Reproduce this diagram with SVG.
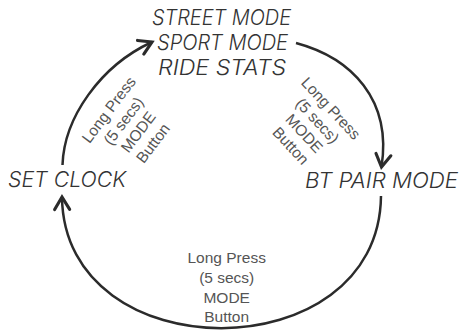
<svg xmlns="http://www.w3.org/2000/svg" width="462" height="331" viewBox="0 0 462 331">
  <style>
    .lcd { font-family: Inter, Roboto, "DejaVu Sans", sans-serif; font-weight: 300; font-style: italic; font-size: 21px; fill: #333; }
    .lbl { font-family: "Liberation Sans", Arial, sans-serif; font-size: 15.5px; fill: #555; text-anchor: middle; }
    .arc { fill: none; stroke: #2b2b2b; stroke-width: 2.5; marker-end: url(#head); }
  </style>
  <defs>
    <marker id="head" markerUnits="userSpaceOnUse" markerWidth="20" markerHeight="20" refX="0" refY="0" viewBox="-12 -8 14 16" orient="auto" overflow="visible">
      <path d="M-10,-6 L0,0 L-10,6" fill="none" stroke="#2b2b2b" stroke-width="2.5" stroke-linecap="round" stroke-linejoin="miter"/>
    </marker>
  </defs>
  <rect width="462" height="331" fill="#fff"/>

  <g id="node-modes">
    <text class="lcd" x="152" y="25" textLength="139" lengthAdjust="spacingAndGlyphs">STREET MODE</text>
    <text class="lcd" x="157" y="50" textLength="131" lengthAdjust="spacingAndGlyphs">SPORT MODE</text>
    <text class="lcd" x="158" y="75" textLength="128" lengthAdjust="spacingAndGlyphs">RIDE STATS</text>
  </g>
  <g id="node-bt-pair">
    <text class="lcd" x="305" y="188" textLength="153" lengthAdjust="spacingAndGlyphs">BT PAIR MODE</text>
  </g>
  <g id="node-set-clock">
    <text class="lcd" x="8" y="187" textLength="118" lengthAdjust="spacingAndGlyphs">SET CLOCK</text>
  </g>

  <g id="connectors">
    <path class="arc" d="M296,43 C352,58 392,100 381.5,167"/>
    <path class="arc" d="M381,196 C379,372 64,372 62,197"/>
    <path class="arc" d="M62.5,165 C64,118 100,66 152,42"/>
    <g transform="translate(327,112) rotate(47)">
      <text class="lbl" x="0" y="0">Long Press</text>
      <text class="lbl" x="0" y="18.3">(5 secs)</text>
      <text class="lbl" x="0" y="36.6">MODE</text>
      <text class="lbl" x="0" y="54.9">Button</text>
    </g>
    <g>
      <text class="lbl" x="226.7" y="263.3">Long Press</text>
      <text class="lbl" x="226.7" y="283">(5 secs)</text>
      <text class="lbl" x="226.7" y="302.7">MODE</text>
      <text class="lbl" x="226.7" y="322.4">Button</text>
    </g>
    <g transform="translate(113,113) rotate(-53)">
      <text class="lbl" x="0" y="0">Long Press</text>
      <text class="lbl" x="0" y="18.5">(5 secs)</text>
      <text class="lbl" x="0" y="37">MODE</text>
      <text class="lbl" x="0" y="55.5">Button</text>
    </g>
  </g>
</svg>
